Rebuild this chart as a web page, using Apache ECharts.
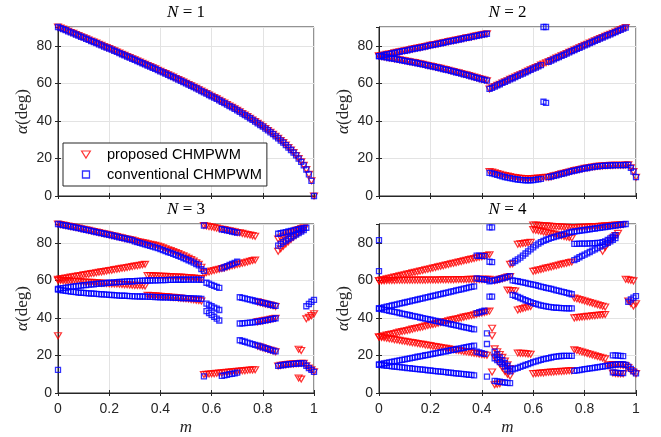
<!DOCTYPE html>
<html>
<head>
<meta charset="utf-8">
<script src="https://cdn.jsdelivr.net/npm/echarts@6/dist/echarts.min.js"></script>
<style>
html, body { margin: 0; padding: 0; background: #fff; }
#chart { width: 661px; height: 437px; }
</style>
</head>
<body>
<div id="chart"></div>
<script>
// Switching angle alpha (deg) versus modulation index m, sampled every 0.01 in m.
// Each branch is [index of its first sample (m = index * 0.01), alpha values].
const mStep = 0.01;
const panelTitles = ['1', '2', '3', '4'];
const xTickValues = [0, 0.2, 0.4, 0.6, 0.8, 1];
const yTickValues = [0, 20, 40, 60, 80];

// N = 1 : a single angle, identical for both methods
const n1Alpha = [
  90.0, 89.4, 88.9, 88.3, 87.7, 87.1, 86.6, 86.0, 85.4, 84.8,
  84.3, 83.7, 83.1, 82.5, 82.0, 81.4, 80.8, 80.2, 79.6, 79.0,
  78.5, 77.9, 77.3, 76.7, 76.1, 75.5, 74.9, 74.3, 73.7, 73.1,
  72.5, 71.9, 71.3, 70.7, 70.1, 69.5, 68.9, 68.3, 67.7, 67.0,
  66.4, 65.8, 65.2, 64.5, 63.9, 63.3, 62.6, 62.0, 61.3, 60.7,
  60.0, 59.3, 58.7, 58.0, 57.3, 56.6, 55.9, 55.2, 54.5, 53.8,
  53.1, 52.4, 51.7, 50.9, 50.2, 49.5, 48.7, 47.9, 47.2, 46.4,
  45.6, 44.8, 43.9, 43.1, 42.3, 41.4, 40.5, 39.6, 38.7, 37.8,
  36.9, 35.9, 34.9, 33.9, 32.9, 31.8, 30.7, 29.5, 28.4, 27.1,
  25.8, 24.5, 23.1, 21.6, 19.9, 18.2, 16.3, 14.1, 11.5, 8.1,
  0.0
];
const n1Proposed = [[0, n1Alpha]];
const n1Conventional = [[0, n1Alpha]];

// N = 2
const n2Upper = [74.5, 74.8, 75.1, 75.4, 75.6, 75.9, 76.2, 76.5, 76.8, 77.1, 77.3, 77.6, 77.9, 78.2, 78.5, 78.8, 79.0, 79.3, 79.6, 79.9, 80.2, 80.5, 80.7, 81.0, 81.3, 81.6, 81.9, 82.2, 82.5, 82.7, 83.0, 83.3, 83.6, 83.9, 84.2, 84.4, 84.7, 85.0, 85.3, 85.6, 85.9, 86.1, 86.4];
const n2Lower = [74.5, 74.3, 74.0, 73.8, 73.5, 73.3, 73.0, 72.8, 72.5, 72.3, 72.0, 71.7, 71.5, 71.2, 71.0, 70.7, 70.4, 70.1, 69.8, 69.5, 69.2, 68.9, 68.6, 68.3, 68.0, 67.6, 67.3, 67.0, 66.6, 66.3, 65.9, 65.6, 65.2, 64.8, 64.5, 64.1, 63.7, 63.3, 62.9, 62.5, 62.1, 61.8, 61.4];
const n2Rising = [57.0, 57.6, 58.3, 58.9, 59.5, 60.2, 60.8, 61.4, 62.1, 62.7, 63.3, 64.0, 64.6, 65.2, 65.9, 66.5, 67.2, 67.8, 68.4, 69.0, 69.7, 70.3, 70.9, 71.5, 72.1, 72.8, 73.4, 74.0, 74.6, 75.2, 75.8, 76.5, 77.1, 77.7, 78.3, 78.9, 79.6, 80.2, 80.8, 81.4, 82.0, 82.6, 83.2, 83.8, 84.4, 85.0, 85.6, 86.1, 86.7, 87.3, 87.9, 88.5, 89.1, 89.7];
const n2LowTail = [10.0, 10.3, 10.7, 11.0, 11.4, 11.8, 12.1, 12.5, 12.8, 13.2, 13.5, 13.8, 14.1, 14.4, 14.7, 14.9, 15.2, 15.4, 15.6, 15.8, 15.9, 16.0, 16.1, 16.2, 16.3, 16.3, 16.4, 16.4, 16.4, 16.4, 16.5, 16.6, 15.0, 13.0, 10.0];
const n2Proposed = [
  [0, n2Upper], [0, n2Lower], [43, n2Rising],
  [43, [13.0, 12.7, 12.3, 11.9, 11.6, 11.2, 10.9, 10.6, 10.3, 10.0, 9.8, 9.6, 9.4, 9.3, 9.2, 9.2, 9.2, 9.3, 9.4, 9.5, 9.6, 9.8, 10.0]],
  [66, n2LowTail]
];
const n2Conventional = [
  [0, n2Upper], [0, n2Lower],
  [43, [57.0, 57.6, 58.3, 58.9, 59.5, 60.2, 60.8, 61.4, 62.1, 62.7, 63.3, 64.0, 64.6, 65.2, 65.9, 66.5, 67.2, 67.8, 68.4, 69.0, 69.7]],
  [66, [71.5, 72.1, 72.8, 73.4, 74.0, 74.6, 75.2, 75.8, 76.5, 77.1, 77.7, 78.3, 78.9, 79.6, 80.2, 80.8, 81.4, 82.0, 82.6, 83.2, 83.8, 84.4, 85.0, 85.6, 86.1, 86.7, 87.3, 87.9, 88.5, 89.1, 89.7]],
  [43, [12.3, 12.0, 11.6, 11.2, 10.8, 10.5, 10.1, 9.8, 9.5, 9.2, 9.0, 8.8, 8.6, 8.5, 8.4, 8.4, 8.4, 8.5, 8.7, 8.9, 9.1]],
  [66, n2LowTail],
  [64, [90.0, 90.0]], [64, [50.2, 49.6]]
];

// N = 3
const n3TopStart = [90.0, 89.7, 89.4, 89.2, 88.9, 88.6, 88.4, 88.1, 87.8, 87.5, 87.2, 86.9, 86.6, 86.3, 86.0, 85.7, 85.4, 85.1, 84.8, 84.5, 84.2, 83.9, 83.6, 83.3, 82.9, 82.6, 82.3, 82.0, 81.7, 81.4];
const n3Proposed = [
  [0, n3TopStart],
  [30, [81.0, 80.7, 80.4, 80.1, 79.8, 79.5, 79.2, 78.9, 78.6, 78.2, 77.8, 77.3, 76.8, 76.3, 75.8, 75.3, 74.8, 74.2, 73.6, 73.0, 72.4, 71.7, 71.0, 70.2, 69.4, 68.5, 67.0]],
  [0, [60.5, 60.7, 61.0, 61.2, 61.4, 61.7, 61.9, 62.1, 62.4, 62.6, 62.9, 63.1, 63.3, 63.6, 63.8, 64.0, 64.3, 64.5, 64.7, 65.0, 65.2, 65.4, 65.7, 65.9, 66.1, 66.4, 66.6, 66.8, 67.1, 67.3, 67.6, 67.8, 68.0, 68.3, 68.5]],
  [0, [60.0, 59.9, 59.8, 59.7, 59.7, 59.6, 59.5, 59.4, 59.3, 59.2, 59.1, 59.0, 58.9, 58.9, 58.8, 58.7, 58.6, 58.5, 58.4, 58.3, 58.2, 58.1, 58.1, 58.0, 57.9, 57.8, 57.7, 57.6, 57.5, 57.4, 57.3, 57.3, 57.2, 57.1, 57.0]],
  [0, [30.5]],
  [35, [62.5, 62.5, 62.4, 62.4, 62.3, 62.2, 62.2, 62.1, 62.0, 62.0, 61.9, 61.8, 61.8, 61.7, 61.6, 61.5, 61.4, 61.3, 61.2, 61.1, 61.0, 60.9]],
  [35, [52.0, 51.9, 51.8, 51.7, 51.6, 51.5, 51.4, 51.3, 51.2, 51.0, 50.9, 50.8, 50.6, 50.5, 50.3, 50.2, 50.0, 49.8, 49.6, 49.4, 49.2, 49.0]],
  [57, [89.2, 88.9, 88.6, 88.4, 88.1, 87.8, 87.5, 87.2, 87.0, 86.7, 86.4, 86.1, 85.8, 85.5, 85.3, 85.0, 84.7, 84.4, 84.1, 83.8, 83.5]],
  [57, [63.8, 64.2, 64.5, 64.9, 65.2, 65.6, 65.9, 66.3, 66.6, 67.0, 67.3, 67.7, 68.0, 68.4, 68.7, 69.1, 69.4, 69.8, 70.1, 70.5, 70.8]],
  [57, [9.8, 9.9, 10.1, 10.2, 10.3, 10.5, 10.6, 10.7, 10.9, 11.0, 11.1, 11.3, 11.4, 11.5, 11.7, 11.8, 11.9, 12.1, 12.2, 12.3, 12.4]],
  [78, [48.5, 48.1, 47.8, 47.4, 47.1, 46.8, 46.4, 46.1]],
  [78, [38.0, 38.2, 38.4, 38.7, 38.9, 39.2, 39.5, 39.8]],
  [78, [24.9, 24.5, 24.1, 23.6, 23.2, 22.8, 22.4, 22.0]],
  [86, [82.0, 82.7, 83.4, 84.1, 84.8, 85.4, 86.0, 86.6, 87.1, 87.6, 88.0]],
  [86, [75.5, 76.8, 78.1, 79.4, 80.6, 81.8, 82.9, 84.0, 85.1, 86.1, 87.0]],
  [86, [14.4, 14.7, 14.9, 15.1, 15.3, 15.4, 15.5, 15.6, 15.7, 15.8, 15.8]],
  [94, [23.3, 22.6]], [94, [8.0, 7.4]],
  [97, [39.5, 40.3, 41.2, 42.2]],
  [97, [14.5, 13.3, 12.3, 11.3]]
];
const n3Conventional = [
  [0, n3TopStart],
  [30, [80.8, 80.4, 80.0, 79.6, 79.2, 78.8, 78.4, 78.0, 77.5, 77.1, 76.6, 76.1, 75.6, 75.1, 74.6, 74.1, 73.6, 73.1, 72.5, 71.9, 71.3, 70.7, 70.1, 69.4, 68.7, 68.0, 66.0]],
  [0, [55.5, 55.7, 55.9, 56.1, 56.3, 56.5, 56.7, 56.9, 57.0, 57.2, 57.4, 57.5, 57.7, 57.8, 57.9, 58.1, 58.2, 58.3, 58.4, 58.6, 58.7, 58.8, 58.9, 59.0, 59.1, 59.2, 59.3, 59.4, 59.5, 59.5, 59.6, 59.7, 59.7, 59.8, 59.8, 59.9, 59.9, 60.0, 60.0, 60.0, 60.1, 60.1, 60.1, 60.2, 60.2, 60.2, 60.3, 60.3, 60.3, 60.3, 60.4, 60.4, 60.4, 60.4, 60.4, 60.4, 60.3]],
  [0, [55.0, 54.8, 54.6, 54.4, 54.2, 54.0, 53.9, 53.7, 53.5, 53.4, 53.3, 53.2, 53.1, 53.0, 52.9, 52.8, 52.7, 52.6, 52.5, 52.4, 52.3, 52.2, 52.1, 52.0, 51.9, 51.8, 51.8, 51.7, 51.6, 51.6, 51.5, 51.5, 51.4, 51.4, 51.3, 51.3, 51.2, 51.2, 51.1, 51.1, 51.0, 51.0, 50.9, 50.9, 50.8, 50.8, 50.7, 50.7, 50.6, 50.6, 50.5, 50.5, 50.4, 50.4, 50.3, 50.3, 50.1]],
  [0, [12.3]],
  [57, [89.2]], [57, [65.0]], [57, [8.9]],
  [58, [58.7, 58.2, 57.6, 57.1, 56.5, 56.0]],
  [58, [47.6, 46.9, 46.2, 45.5, 44.9, 44.2]],
  [58, [43.6, 42.6, 41.6, 40.6, 39.6, 38.6]],
  [64, [87.2, 86.9, 86.6, 86.3, 86.0, 85.7, 85.4]],
  [64, [66.4, 67.0, 67.6, 68.2, 68.7, 69.3, 69.9]],
  [64, [9.1, 9.4, 9.7, 10.0, 10.2, 10.5, 10.8]],
  [71, [51.0, 50.7, 50.4, 50.0, 49.7, 49.4, 49.0, 48.7, 48.4, 48.0, 47.7, 47.4, 47.0, 46.7, 46.4]],
  [71, [37.0, 37.1, 37.2, 37.3, 37.5, 37.6, 37.8, 38.0, 38.2, 38.4, 38.7, 38.9, 39.2, 39.5, 39.8]],
  [71, [28.1, 27.7, 27.3, 26.8, 26.4, 26.0, 25.6, 25.2, 24.8, 24.3, 23.9, 23.5, 23.0, 22.6, 22.2]],
  [86, [84.8, 85.1, 85.4, 85.7, 86.0, 86.3, 86.6, 86.9, 87.2, 87.5, 87.8, 88.0]],
  [86, [78.5, 79.4, 80.3, 81.2, 82.0, 82.8, 83.6, 84.4, 85.2, 86.0, 86.8]],
  [86, [14.4, 14.7, 14.9, 15.1, 15.3, 15.4, 15.5, 15.6, 15.7, 15.8, 15.8]],
  [97, [46.2, 47.4, 48.6, 49.6]],
  [97, [14.5, 13.3, 12.3, 11.3]]
];

// N = 4
const n4Proposed = [
  [0, [59.8, 60.1, 60.4, 60.8, 61.1, 61.4, 61.7, 62.0, 62.4, 62.7, 63.0, 63.3, 63.6, 64.0, 64.3, 64.6, 64.9, 65.2, 65.6, 65.9, 66.2, 66.5, 66.8, 67.2, 67.5, 67.8, 68.1, 68.4, 68.8, 69.1, 69.4, 69.7, 70.0, 70.4, 70.7, 71.0, 71.3, 71.6, 72.0, 72.3, 72.6, 72.9, 73.2, 73.6]],
  [0, [59.8, 59.8, 59.8, 59.9, 59.9, 59.9, 59.9, 60.0, 60.0, 60.0, 60.0, 60.0, 60.0, 60.1, 60.1, 60.1, 60.1, 60.1, 60.1, 60.2, 60.2, 60.2, 60.2, 60.2, 60.3, 60.3, 60.3, 60.3, 60.3, 60.3, 60.4, 60.4, 60.4, 60.4, 60.4, 60.5, 60.5, 60.5, 60.5, 60.5, 60.5, 60.5, 60.5, 60.5]],
  [0, [29.8, 30.1, 30.4, 30.8, 31.1, 31.4, 31.7, 32.0, 32.4, 32.7, 33.0, 33.3, 33.6, 34.0, 34.3, 34.6, 34.9, 35.2, 35.6, 35.9, 36.2, 36.5, 36.8, 37.2, 37.5, 37.8, 38.1, 38.4, 38.8, 39.1, 39.4, 39.7, 40.0, 40.4, 40.7, 41.0, 41.3, 41.6, 42.0, 42.3, 42.6, 42.9, 43.2, 43.6]],
  [0, [29.8, 29.6, 29.4, 29.1, 28.9, 28.7, 28.4, 28.2, 28.0, 27.7, 27.5, 27.3, 27.0, 26.8, 26.6, 26.3, 26.1, 25.9, 25.6, 25.4, 25.2, 24.9, 24.7, 24.5, 24.2, 24.0, 23.8, 23.5, 23.3, 23.1, 22.8, 22.6, 22.4, 22.1, 21.9, 21.7, 21.4, 21.2, 21.0, 20.7, 20.5, 20.3, 20.1]],
  [44, [34.5]], [44, [30.5]], [44, [11.2]],
  [45, [23.5, 22.0, 20.5, 19.0, 17.0, 15.0, 13.0]],
  [45, [19.0, 17.5, 15.5, 13.5, 11.5, 10.0, 9.0]],
  [45, [4.4, 4.6, 4.9]],
  [45, [59.8, 60.2, 60.5, 60.9, 61.3, 61.7, 62.0]],
  [50, [54.8, 54.6, 54.5, 54.3]], [51, [68.5, 68.8]],
  [54, [79.2, 79.4, 79.6, 79.8, 80.0, 80.2]],
  [54, [44.2, 44.6, 45.0, 45.4, 45.8, 46.1]],
  [54, [21.3, 21.2, 21.1, 21.0, 20.8, 20.6]],
  [60, [89.5, 89.4, 89.3, 89.2, 89.1, 89.0, 88.9, 88.8, 88.7, 88.6, 88.5, 88.4, 88.3, 88.2, 88.1, 88.0]],
  [60, [87.0, 86.7, 86.4, 86.1, 85.8, 85.5, 85.2, 84.9, 84.6, 84.3, 84.0, 83.7, 83.4, 83.1, 82.8, 82.5]],
  [60, [64.8, 65.1, 65.5, 65.8, 66.1, 66.5, 66.8, 67.1, 67.5, 67.8, 68.1, 68.5, 68.8, 69.1, 69.5, 69.8]],
  [60, [10.3, 10.4, 10.5, 10.6, 10.7, 10.9, 11.0, 11.1, 11.2, 11.3, 11.4, 11.5, 11.6, 11.7, 11.8, 11.9]],
  [76, [50.6, 50.2, 49.8, 49.4, 49.0, 48.6, 48.2, 47.8, 47.4, 47.0, 46.6, 46.2, 45.8]],
  [76, [40.0, 40.2, 40.3, 40.5, 40.6, 40.8, 40.9, 41.1, 41.2, 41.4, 41.5, 41.7, 41.8]],
  [76, [23.0, 22.6, 22.2, 21.8, 21.4, 21.0, 20.6, 20.2, 19.8, 19.4, 19.0, 18.6, 18.2]],
  [76, [88.0, 88.1, 88.2, 88.2, 88.3, 88.4, 88.5, 88.6, 88.6, 88.7, 88.8, 88.9, 89.0]],
  [89, [89.1, 89.2, 89.3, 89.4, 89.5, 89.6, 89.7]],
  [87, [75.5, 77.5, 79.5, 81.0, 82.5, 83.8, 85.0]],
  [89, [14.8, 15.0, 15.1, 15.1, 15.0, 14.9, 14.7]],
  [91, [10.6, 10.4, 10.3, 10.2, 10.3]],
  [96, [60.6, 60.3, 60.0, 59.7]],
  [97, [49.0, 47.6, 46.3, 47.5]],
  [96, [14.5, 13.5, 12.0, 11.0, 10.3]]
];
const n4Conventional = [
  [0, [45.0, 45.3, 45.6, 46.0, 46.3, 46.6, 46.9, 47.2, 47.6, 47.9, 48.2, 48.5, 48.8, 49.2, 49.5, 49.8, 50.1, 50.4, 50.8, 51.1, 51.4, 51.7, 52.0, 52.4, 52.7, 53.0, 53.3, 53.6, 54.0, 54.3, 54.6, 54.9, 55.2, 55.6, 55.9, 56.2, 56.5, 56.8]],
  [0, [45.0, 44.7, 44.4, 44.1, 43.8, 43.5, 43.2, 42.9, 42.6, 42.3, 42.0, 41.7, 41.4, 41.1, 40.8, 40.5, 40.2, 39.9, 39.6, 39.3, 39.0, 38.7, 38.4, 38.1, 37.8, 37.5, 37.2, 36.9, 36.6, 36.3, 36.0, 35.7, 35.4, 35.1, 34.8, 34.5, 34.2, 33.9]],
  [0, [15.2, 15.5, 15.7, 16.0, 16.3, 16.6, 16.8, 17.1, 17.4, 17.6, 17.9, 18.2, 18.4, 18.7, 19.0, 19.3, 19.5, 19.8, 20.1, 20.3, 20.6, 20.9, 21.1, 21.4, 21.7, 22.0, 22.2, 22.5, 22.8, 23.0, 23.3, 23.6, 23.8, 24.1, 24.4, 24.7, 24.9, 25.2]],
  [0, [15.0, 14.8, 14.7, 14.5, 14.4, 14.2, 14.1, 13.9, 13.8, 13.6, 13.5, 13.3, 13.2, 13.0, 12.9, 12.7, 12.6, 12.4, 12.3, 12.1, 12.0, 11.8, 11.7, 11.5, 11.4, 11.2, 11.1, 10.9, 10.8, 10.6, 10.5, 10.3, 10.2, 10.0, 9.9, 9.7, 9.6, 9.4]],
  [0, [81.4]], [0, [64.9]],
  [38, [73.2, 73.1, 73.0, 72.9]],
  [38, [61.0, 60.8, 60.6, 60.5]],
  [38, [42.5, 43.0, 43.4, 43.8]],
  [38, [22.0, 21.6, 21.2, 20.8]],
  [42, [31.8]], [42, [26.1]], [42, [8.7]], [42, [60.3]],
  [43, [88.2, 88.2]], [43, [69.9, 69.7]], [43, [51.3, 51.3]], [43, [59.5, 59.8]],
  [45, [22.0, 20.5, 19.0, 17.5, 16.0, 14.5, 13.0]],
  [45, [18.5, 17.5, 16.5, 15.5, 14.0, 12.5, 11.5]],
  [45, [6.5, 6.2, 6.0, 5.8, 5.6, 5.4, 5.3]],
  [45, [60.0, 60.3, 60.7, 61.0, 61.4, 61.8, 62.2]],
  [52, [69.4, 70.3, 71.2, 72.1, 73.2, 74.3, 75.4, 76.5, 77.6, 78.6, 79.5, 80.3, 81.0, 81.6, 82.1, 82.6, 83.0, 83.4, 83.8, 84.2, 84.6, 85.0, 85.4, 85.8]],
  [52, [60.0, 59.7, 59.5, 59.2, 58.9, 58.6, 58.3, 58.0, 57.7, 57.4, 57.0, 56.7, 56.4, 56.0, 55.7, 55.4, 55.0, 54.7, 54.4, 54.0, 53.7, 53.3, 53.0, 52.6]],
  [52, [52.3, 51.8, 51.2, 50.6, 50.0, 49.4, 48.9, 48.4, 47.9, 47.5, 47.1, 46.7, 46.4, 46.1, 45.9, 45.7, 45.5, 45.4, 45.3, 45.2, 45.2, 45.1, 45.1, 45.1]],
  [52, [12.6, 13.0, 13.4, 13.9, 14.4, 14.9, 15.4, 15.9, 16.4, 16.8, 17.2, 17.6, 18.0, 18.3, 18.6, 18.9, 19.2, 19.4, 19.6, 19.7, 19.8, 19.8, 19.8, 19.8]],
  [76, [86.0, 86.2, 86.4, 86.6, 86.8, 87.0, 87.2, 87.4, 87.6, 87.8, 88.0, 88.2, 88.4, 88.6, 88.8]],
  [76, [79.4, 79.4, 79.5, 79.5, 79.6, 79.6, 79.7, 79.7, 79.8, 79.9, 80.0, 80.3, 80.8, 81.5, 82.3]],
  [76, [70.8, 71.5, 72.3, 73.0, 73.7, 74.4, 75.1, 75.8, 76.5, 77.2, 77.9, 78.6, 79.3, 80.0, 80.8]],
  [76, [11.8, 12.0, 12.2, 12.5, 12.7, 12.9, 13.1, 13.3, 13.5, 13.7, 13.9, 14.1, 14.3, 14.5, 14.7]],
  [91, [89.0, 89.2, 89.4, 89.6, 89.8, 90.0]],
  [91, [14.9, 15.1, 15.3, 15.4, 15.3, 15.0]],
  [91, [83.2, 84.0]], [91, [81.6, 82.5]],
  [91, [20.0, 20.0, 19.9, 19.8, 19.6]],
  [91, [11.0, 10.8, 10.7, 10.6, 10.6]],
  [97, [14.0, 12.8, 11.5, 10.5]],
  [97, [48.6, 49.8, 50.8, 51.6]]
];

const proposedPanels = [n1Proposed, n2Proposed, n3Proposed, n4Proposed];
const conventionalPanels = [n1Conventional, n2Conventional, n3Conventional, n4Conventional];

// ---- rendering ----
const INK = '#262626';
const SANS = '"Liberation Sans", Arial, Helvetica, sans-serif';
const SERIF = '"Liberation Serif", "DejaVu Serif", serif';
const RED = '#ff0000';
const BLUE = '#0000ff';

function toPoints(branches) {
  const pts = [];
  branches.forEach(([start, vals]) => {
    vals.forEach((v, k) => pts.push([+((start + k) * mStep).toFixed(2), v]));
  });
  return pts;
}

const boxes = [
  { left: 58, top: 27, width: 256, height: 169 },
  { left: 379, top: 27, width: 257, height: 169 },
  { left: 58, top: 224, width: 256, height: 169 },
  { left: 379, top: 224, width: 257, height: 169 }
];

const grid = boxes.map(b => Object.assign({ show: true, borderColor: INK, borderWidth: 1, backgroundColor: '#fff' }, b));

const xMin = xTickValues[0], xMax = xTickValues[xTickValues.length - 1];
const xStep = xTickValues[1] - xTickValues[0];
const yStep = yTickValues[1] - yTickValues[0];

const xAxis = [];
const yAxis = [];
boxes.forEach((b, i) => {
  const bottomRow = i >= 2;
  xAxis.push({
    type: 'value', gridIndex: i, min: xMin, max: xMax, interval: xStep, position: 'bottom',
    axisLine: { show: true, lineStyle: { color: INK, width: 1 } },
    axisTick: { show: true, inside: true, length: 3, lineStyle: { color: INK } },
    axisLabel: { show: bottomRow, color: INK, fontSize: 14, fontFamily: SANS, margin: 9 },
    splitLine: { show: true, lineStyle: { color: '#e3e3e3', width: 1 } }
  });
  yAxis.push({
    type: 'value', gridIndex: i, min: 0, max: 90, interval: yStep, position: 'left',
    axisLine: { show: true, lineStyle: { color: INK, width: 1 } },
    axisTick: { show: true, inside: true, length: 3, lineStyle: { color: INK } },
    axisLabel: { show: true, color: INK, fontSize: 14, fontFamily: SANS, margin: 6, showMaxLabel: false },
    splitLine: { show: true, lineStyle: { color: '#e3e3e3', width: 1 } }
  });
});
boxes.forEach((b, i) => {
  xAxis.push({
    type: 'value', gridIndex: i, min: xMin, max: xMax, interval: xStep, position: 'top',
    axisLine: { show: false }, axisLabel: { show: false }, splitLine: { show: false },
    axisTick: { show: true, inside: true, length: 3, lineStyle: { color: INK } }
  });
  yAxis.push({
    type: 'value', gridIndex: i, min: 0, max: 90, interval: yStep, position: 'right',
    axisLine: { show: false }, axisLabel: { show: false }, splitLine: { show: false },
    axisTick: { show: true, inside: true, length: 3, lineStyle: { color: INK } }
  });
});

const series = [];
boxes.forEach((b, i) => {
  series.push({
    name: 'proposed CHMPWM', type: 'scatter', xAxisIndex: i, yAxisIndex: i,
    symbol: 'triangle', symbolRotate: 180, symbolSize: [7, 6],
    itemStyle: { color: 'transparent', borderColor: RED, borderWidth: 1.2 },
    data: toPoints(proposedPanels[i]), z: 2
  });
  series.push({
    name: 'conventional CHMPWM', type: 'scatter', xAxisIndex: i, yAxisIndex: i,
    symbol: 'rect', symbolSize: 5,
    itemStyle: { color: 'transparent', borderColor: BLUE, borderWidth: 1.3 },
    data: toPoints(conventionalPanels[i]), z: 3
  });
});

const graphic = [];
boxes.forEach((b, i) => {
  const cx = b.left + b.width / 2;
  graphic.push({
    type: 'text', x: cx, y: b.top - 14,
    style: {
      text: '{i|N}{r| = ' + panelTitles[i] + '}',
      align: 'center', verticalAlign: 'middle',
      rich: {
        i: { fontFamily: SERIF, fontSize: 17, fontStyle: 'italic', fill: '#000' },
        r: { fontFamily: SERIF, fontSize: 17, fill: '#000' }
      }
    }
  });
  graphic.push({
    type: 'text', x: b.left - 35, y: b.top + b.height / 2, rotation: Math.PI / 2,
    style: {
      text: '{i|α}{r|(deg)}',
      align: 'center', verticalAlign: 'middle',
      rich: {
        i: { fontFamily: SERIF, fontSize: 17, fontStyle: 'italic', fill: INK },
        r: { fontFamily: SERIF, fontSize: 17, fill: INK }
      }
    }
  });
  if (i >= 2) {
    graphic.push({
      type: 'text', x: cx, y: b.top + b.height + 35,
      style: {
        text: 'm', align: 'center', verticalAlign: 'middle',
        fontFamily: SERIF, fontSize: 17, fontStyle: 'italic', fill: INK
      }
    });
  }
});

const chart = echarts.init(document.getElementById('chart'), null, { renderer: 'canvas' });
chart.setOption({
  animation: false,
  backgroundColor: '#fff',
  grid, xAxis, yAxis, series, graphic,
  legend: {
    orient: 'vertical', left: 63, top: 143,
    backgroundColor: '#fff', borderColor: INK, borderWidth: 1, borderRadius: 0,
    padding: [4, 5, 4, 18], itemGap: 5, itemWidth: 32, itemHeight: 7,
    selectedMode: false,
    textStyle: { fontSize: 14.6, fontFamily: SANS, color: '#000' },
    data: [
      { name: 'proposed CHMPWM', icon: 'path://M0,0L10,0L5,8Z',
        itemStyle: { color: 'transparent', borderColor: RED, borderWidth: 1.2 } },
      { name: 'conventional CHMPWM', icon: 'path://M0,0H8V8H0Z',
        itemStyle: { color: 'transparent', borderColor: BLUE, borderWidth: 1.3 } }
    ]
  }
});
</script>
</body>
</html>
